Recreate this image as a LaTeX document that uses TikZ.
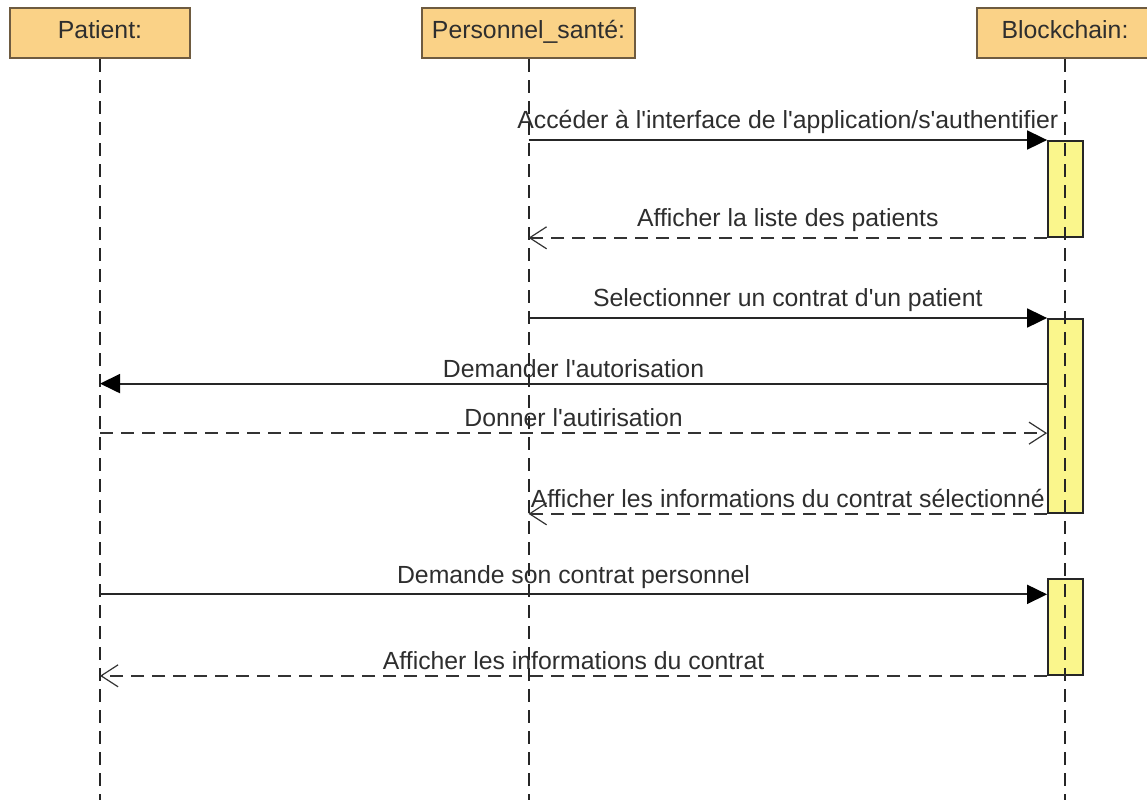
\documentclass[tikz,border=0pt]{standalone}
\usepackage{fontspec}
\setmainfont{Liberation Sans}[Ligatures=TeXOff]
\usepackage{tikz}
\usetikzlibrary{arrows.meta,positioning,calc}
\usepackage{xcolor}
\definecolor{HeadFill}{HTML}{FAD287}
\definecolor{HeadDraw}{HTML}{6E5B40}
\definecolor{ActFill}{HTML}{FAF68C}
\definecolor{InkGray}{HTML}{2E2E2E}

\begin{document}
\begin{tikzpicture}[x=0.5pt,y=-0.5pt,
  every node/.style={font=\fontsize{12.4}{14}\selectfont,text=InkGray},
  lifehead/.style={draw=HeadDraw,fill=HeadFill,line width=1.3pt,minimum height=25pt,inner sep=0pt,
    text height=0.72em,text depth=0.22em},
  lifeline/.style={draw=black!85,line width=1pt,dash pattern=on 6.5pt off 4pt},
  activation/.style={draw=black!85,fill=ActFill,line width=0.9pt,minimum width=17.5pt,anchor=north,inner sep=0pt},
  call/.style={draw=black!85,line width=0.9pt,-{Triangle[length=10pt,width=9.5pt,black]}},
  reply/.style={draw=black!80,line width=0.9pt,dash pattern=on 6.5pt off 4pt,-{Straight Barb[length=8.5pt,width=11pt,line width=0.6pt]}},
  msg/.style={midway,above,inner sep=2.5pt}]
  \useasboundingbox (0,0) rectangle (1147,800);
  \coordinate (bottom) at (0,800);
  % lifeline heads
  \node[lifehead,minimum width=90pt] (patient) at (100,33) {Patient:};
  \node[lifehead,minimum width=106.5pt] (perso) at (528.5,33) {Personnel\_santé:};
  \node[lifehead,minimum width=88pt] (block) at (1065,33) {Blockchain:};
  % activation bars
  \node[activation,minimum height=48pt] (act1) at (1065.5,140) {};
  \node[activation,minimum height=97pt] (act2) at (1065.5,318) {};
  \node[activation,minimum height=48pt] (act3) at (1065.5,578) {};
  % lifelines
  \draw[lifeline] (patient.south) -- (patient.south |- bottom);
  \draw[lifeline] (perso.south) -- (perso.south |- bottom);
  \draw[lifeline] (block.south) -- (block.south |- bottom);
  % messages
  \draw[call] (perso.south |- act1.north) -- (act1.north west)
    node[msg] {Accéder à l'interface de l'application/s'authentifier};
  \draw[reply] (act1.south west) -- (perso.south |- act1.south)
    node[msg] {Afficher la liste des patients};
  \draw[call] (perso.south |- act2.north) -- (act2.north west)
    node[msg] {Selectionner un contrat d'un patient};
  \coordinate (ask) at ($(act2.north west)!0.335!(act2.south west)$);
  \coordinate (give) at ($(act2.north west)!0.588!(act2.south west)$);
  \draw[call] (ask) -- (patient.south |- ask)
    node[msg] {Demander l'autorisation};
  \draw[reply] (patient.south |- give) -- (give)
    node[msg] {Donner l'autirisation};
  \draw[reply] (act2.south west) -- (perso.south |- act2.south)
    node[msg] {Afficher les informations du contrat sélectionné};
  \coordinate (own) at ($(act3.north west)!0.167!(act3.south west)$);
  \draw[call] (patient.south |- own) -- (own)
    node[msg] {Demande son contrat personnel};
  \draw[reply] (act3.south west) -- (patient.south |- act3.south)
    node[msg] {Afficher les informations du contrat};
\end{tikzpicture}
\end{document}
